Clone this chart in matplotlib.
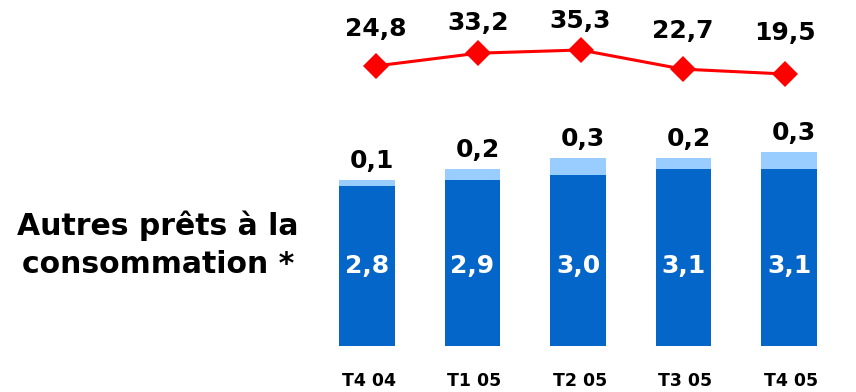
import matplotlib
matplotlib.use('Agg')
import matplotlib.pyplot as plt

# ── data ─────────────────────────────────────────────────────────────────────

quarters = ['T4 04', 'T1 05', 'T2 05', 'T3 05', 'T4 05']
base = [2.8, 2.9, 3.0, 3.1, 3.1]
extra = [0.1, 0.2, 0.3, 0.2, 0.3]
ratio = [24.8, 33.2, 35.3, 22.7, 19.5]

DARK = '#0566C9'
LIGHT = '#99CCFF'
RED = '#FF0000'


def fr(v):
    return f'{v:.1f}'.replace('.', ',')


W, H = 856, 392
fig = plt.figure(figsize=(W / 100, H / 100), dpi=100)
plt.rcParams['font.family'] = 'DejaVu Sans'

# axes spans x 300..856 px, y 0..346 px (from top)
pos = [300 / W, (H - 345.7) / H, (W - 300) / W, 345.7 / H]

# ── stacked bars ─────────────────────────────────────────────────────────────
ax = fig.add_axes(pos)
x = list(range(len(quarters)))
ax.bar(x, base, width=0.53, color=DARK)
ax.bar(x, extra, bottom=base, width=0.53, color=LIGHT)
ax.set_xlim(-0.635, 4.635)
ax.set_ylim(0, 345.7 / 57)
ax.axis('off')

for i in x:
    ax.text(i, 1.4, fr(base[i]), color='white', fontsize=18, fontweight='bold',
            ha='center', va='center')
    ax.annotate(fr(extra[i]), (i, base[i] + extra[i]), xytext=(5, 19),
                textcoords='offset pixels', ha='center', va='center',
                fontsize=18, fontweight='bold', color='black')
    ax.annotate(quarters[i], (i, 0), xytext=(2, -35), textcoords='offset pixels',
                ha='center', va='center', fontsize=12.5, fontweight='bold',
                annotation_clip=False)

# ── line ─────────────────────────────────────────────────────────────────────
ax2 = fig.add_axes(pos)
ax2.plot(x, ratio, color=RED, linewidth=2.2, marker='D', markersize=13,
         markeredgewidth=0)
ax2.set_xlim(-76 / 102.25, 480 / 102.25)
ax2.set_ylim(19.5 - (345.7 - 74) / 1.52, 19.5 + 74 / 1.52)
ax2.axis('off')
lo = min(ratio)
for i in x:
    # labels sit closer to the higher points
    dy = 41 - 0.76 * (ratio[i] - lo)
    ax2.annotate(fr(ratio[i]), (i, ratio[i]), xytext=(0, dy),
                 textcoords='offset pixels', ha='center', va='center',
                 fontsize=18, fontweight='bold', color='black')

fig.text(158 / W, (H - 245) / H, 'Autres prêts à la\nconsommation *',
         ha='center', va='center', multialignment='center',
         fontsize=21.5, fontweight='bold', linespacing=1.4)

fig.savefig('out.png', dpi=100)
